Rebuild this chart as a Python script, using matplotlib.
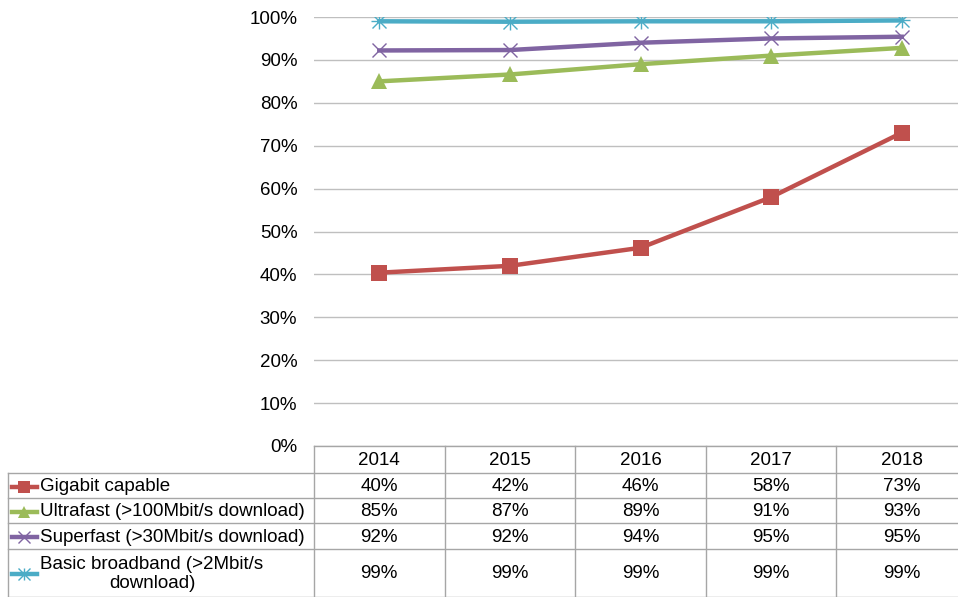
import numpy as np
import matplotlib.pyplot as plt
from matplotlib.lines import Line2D

plt.rcParams['font.family'] = ['Liberation Sans', 'DejaVu Sans']

# collected data
years = ['2014', '2015', '2016', '2017', '2018']
gigabit = [40.4, 42.0, 46.2, 58.0, 73.0]
ultrafast = [85.0, 86.6, 89.0, 91.0, 92.8]
superfast = [92.2, 92.3, 94.0, 95.0, 95.4]
basic = [99.0, 98.9, 99.0, 99.0, 99.2]

labels = ['Gigabit capable', 'Ultrafast (>100Mbit/s download)',
          'Superfast (>30Mbit/s download)', 'Basic broadband (>2Mbit/s\ndownload)']
series = [gigabit, ultrafast, superfast, basic]
colors = ['#C0504D', '#9BBB59', '#8064A2', '#4BACC6']
markers = ['s', '^', 'x', 'x']

W, H = 958, 597
fs = 13.5
fig = plt.figure(figsize=(W / 100, H / 100), dpi=100)

# plot area in pixels
x0, x1, ytop, ybot = 314, 967, 17, 446
ax = fig.add_axes([x0 / W, 1 - ybot / H, (x1 - x0) / W, (ybot - ytop) / H])
x = np.arange(len(years))
for s, c, m in zip(series, colors, markers):
    ms = 11 if m != 'x' else 10
    ax.plot(x, s, color=c, lw=3.2, marker=m, ms=ms, mew=1 if m == 'x' else 0,
            mec=c, mfc=c, zorder=3)
    if c == colors[3]:
        ax.plot(x, s, ls='none', marker='+', ms=12, mew=1, color=c, zorder=3)
ax.set_xlim(-0.5, len(years) - 0.5)
ax.set_ylim(0, 100)
ax.set_yticks(np.arange(0, 101, 10))
ax.set_yticklabels([f'{v}%' for v in range(0, 101, 10)], fontsize=fs)
ax.tick_params(axis='y', length=0, pad=12)
ax.set_xticks([])
ax.grid(axis='y', color='#BFBFBF', lw=1)
for sp in ax.spines.values():
    sp.set_visible(False)
ax.set_axisbelow(True)

# data table drawn in pixel coordinates
tab = fig.add_axes([0, 0, 1, 1])
tab.set_xlim(0, W)
tab.set_ylim(H, 0)
tab.axis('off')
tab.patch.set_alpha(0)
line_c = '#A6A6A6'
rows = [446, 473, 498, 523, 549, 597]
col_w = (x1 - x0) / len(years)
cols = [x0 + i * col_w for i in range(len(years) + 1)]
tab.plot([x0, x1], [rows[0], rows[0]], color=line_c, lw=1)
for r in rows[1:]:
    tab.plot([8, x1], [r, r], color=line_c, lw=1)
tab.plot([8, 8], [rows[1], rows[-1]], color=line_c, lw=1)
for cx in cols:
    tab.plot([cx, cx], [rows[0], rows[-1]], color=line_c, lw=1)
for i, yr in enumerate(years):
    tab.text(cols[i] + col_w / 2, (rows[0] + rows[1]) / 2 + 1, yr,
             ha='center', va='center', fontsize=fs)
for j, (lab, s, c, m) in enumerate(zip(labels, series, colors, markers)):
    yc = (rows[j + 1] + rows[j + 2]) / 2 + 1
    tab.add_line(Line2D([12, 37], [yc, yc], color=c, lw=3.2))
    tab.plot([24], [yc], marker=m, color=c, ms=8, mew=1 if m == 'x' else 0)
    if '\n' in lab:
        tab.add_line(Line2D([24], [yc], marker='+', color=c, ms=9, mew=1))
        tab.text(152, yc, lab, ha='center', va='center', fontsize=fs,
                 multialignment='center', linespacing=1.15)
    else:
        tab.text(40, yc, lab, ha='left', va='center', fontsize=fs)
    for i, v in enumerate(s):
        tab.text(cols[i] + col_w / 2, yc, f'{round(v)}%', ha='center',
                 va='center', fontsize=fs)

fig.savefig('out.png', dpi=100)
